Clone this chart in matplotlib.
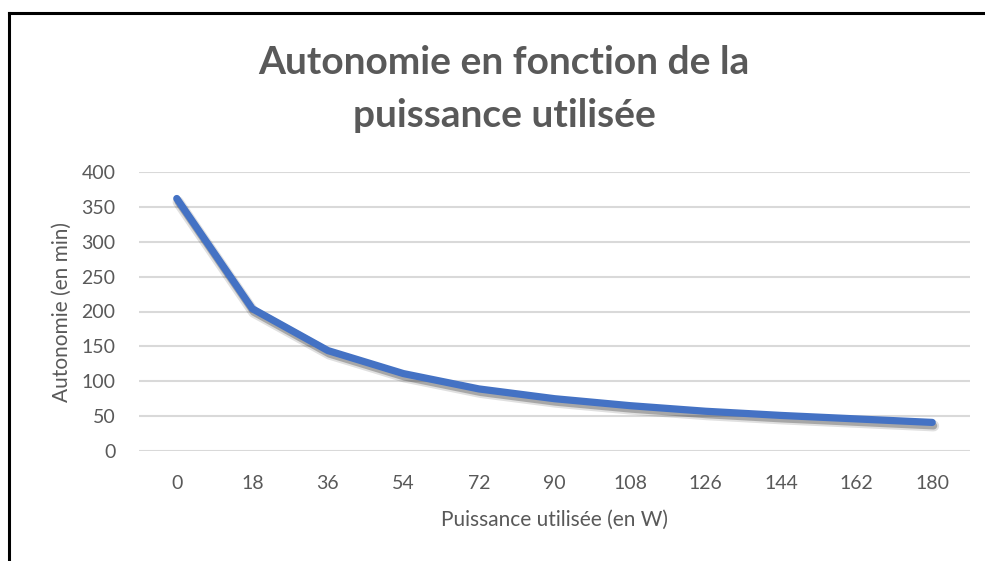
import matplotlib.pyplot as plt
import matplotlib.patheffects as pe
from matplotlib.lines import Line2D

# data
puissance = ['0', '18', '36', '54', '72', '90', '108', '126', '144', '162', '180']
autonomie = [362, 204, 144, 111, 89, 75, 65, 57, 51, 46, 41]
y_ticks = [0, 50, 100, 150, 200, 250, 300, 350, 400]

plt.rcParams['font.family'] = ['Lato', 'DejaVu Sans']
grey = '#595959'

fig = plt.figure(figsize=(9.85, 5.61), dpi=100)
ax = fig.add_axes([139 / 985, 1 - 451 / 561, 831 / 985, 279 / 561])

x = range(len(puissance))
# soft shadow under the line, like the Excel effect
shadow = [pe.SimpleLineShadow(offset=(1, -2.5), shadow_color='black', alpha=0.12, linewidth=8),
          pe.SimpleLineShadow(offset=(1, -2.5), shadow_color='black', alpha=0.25),
          pe.Normal()]
ax.plot(x, autonomie, color='#4472c4', lw=5.2, solid_capstyle='round',
        solid_joinstyle='round', zorder=3, path_effects=shadow)

ax.set_xlim(-0.5, len(puissance) - 0.5)
ax.set_ylim(0, 400)
ax.set_yticks(y_ticks)
ax.set_xticks(list(x))
ax.set_xticklabels(puissance)
ax.grid(axis='y', color='#d9d9d9', lw=1.5)
ax.set_axisbelow(True)
for s in ax.spines.values():
    s.set_visible(False)
ax.tick_params(length=0, labelsize=14, labelcolor=grey)
ax.tick_params(axis='y', pad=17)
ax.tick_params(axis='x', pad=17)

ax.set_xlabel('Puissance utilisée (en W)', fontsize=15, color=grey, labelpad=13)
ax.set_ylabel('Autonomie (en min)', fontsize=15, color=grey, labelpad=7)

# title, two lines placed on their baselines
fig.text(504 / 985, 1 - 74 / 561, 'Autonomie en fonction de la',
         ha='center', va='baseline', fontsize=28, fontweight='bold', color=grey)
fig.text(504 / 985, 1 - 127 / 561, 'puissance utilisée',
         ha='center', va='baseline', fontsize=28, fontweight='bold', color=grey)

# black frame on the left and top
fig.add_artist(Line2D([9 / 985, 9 / 985], [0, 1 - 13 / 561], color='black', lw=2.2))
fig.add_artist(Line2D([9 / 985, 1], [1 - 13 / 561, 1 - 13 / 561], color='black', lw=2.2))

fig.savefig('out.png', dpi=100)
